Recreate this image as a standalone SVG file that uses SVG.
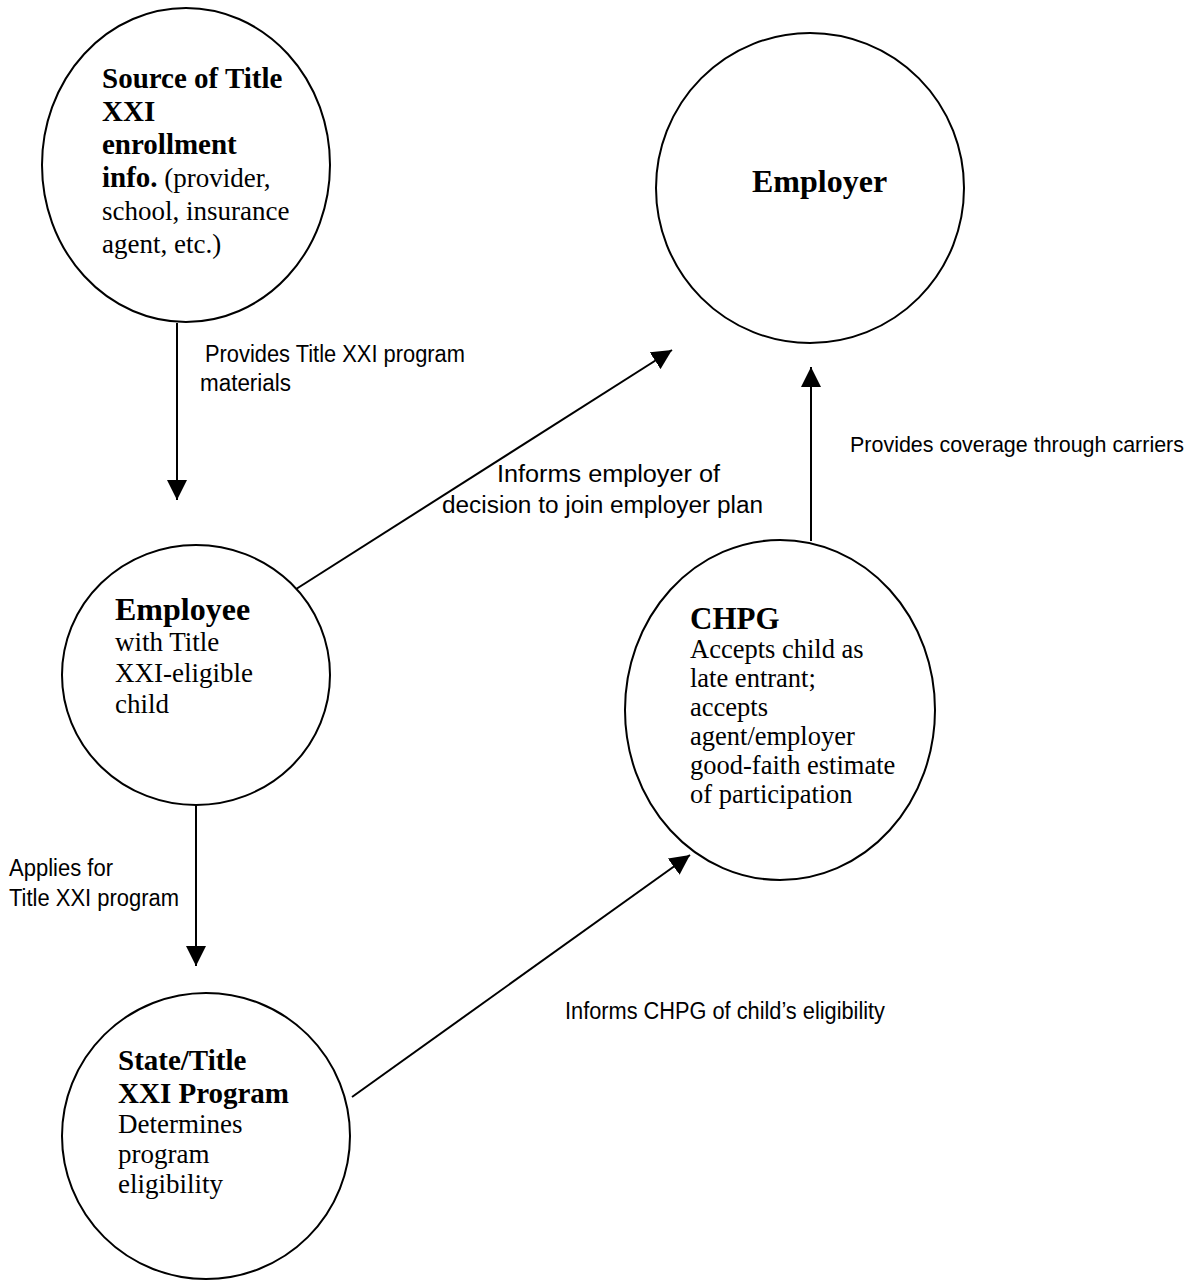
<svg xmlns="http://www.w3.org/2000/svg" width="1198" height="1281" viewBox="0 0 1198 1281">
<defs>
<style>
.node{fill:#fff;stroke:#000;stroke-width:2}
.b{font-family:"Liberation Serif","Times New Roman",serif;font-weight:bold;fill:#000}
.r{font-family:"Liberation Serif","Times New Roman",serif;fill:#000}
.lbl{font-family:"Liberation Sans Narrow","Liberation Sans",Arial,sans-serif;font-size:23px;fill:#000}
.edge{stroke:#000;stroke-width:2;fill:none;marker-end:url(#arr)}
</style>
<marker id="arr" markerUnits="userSpaceOnUse" markerWidth="20" markerHeight="20" refX="20" refY="10" orient="auto">
<path d="M0,0 L20,10 L0,20 z" fill="#000"/>
</marker>
</defs>
<rect width="1198" height="1281" fill="#fff"/>
<g id="connectors">
<line class="edge" x1="177" y1="323" x2="177" y2="500"/>
<line class="edge" x1="293" y1="591" x2="672" y2="350"/>
<line class="edge" x1="196" y1="806" x2="196" y2="966"/>
<line class="edge" x1="352" y1="1097" x2="690" y2="855"/>
<line class="edge" x1="811" y1="541" x2="811" y2="367"/>
<text class="lbl" x="205" y="362" textLength="260" lengthAdjust="spacingAndGlyphs">Provides Title XXI program</text>
<text class="lbl" x="200" y="391" textLength="91" lengthAdjust="spacingAndGlyphs">materials</text>
<text class="lbl" x="497" y="482" textLength="223" lengthAdjust="spacingAndGlyphs">Informs employer of</text>
<text class="lbl" x="442" y="513" textLength="321" lengthAdjust="spacingAndGlyphs">decision  to join employer plan</text>
<text class="lbl" x="850" y="452" font-size="21.5" style="font-size:21.5px" textLength="334" lengthAdjust="spacingAndGlyphs">Provides coverage through carriers</text>
<text class="lbl" x="9" y="876" textLength="104" lengthAdjust="spacingAndGlyphs">Applies for</text>
<text class="lbl" x="9" y="906" textLength="170" lengthAdjust="spacingAndGlyphs">Title XXI program</text>
<text class="lbl" x="565" y="1019" textLength="320" lengthAdjust="spacingAndGlyphs">Informs CHPG of child’s eligibility</text>
</g>
<g id="source">
<ellipse class="node" cx="186" cy="165" rx="144" ry="157"/>
<text class="b" font-size="29" x="102" y="88">Source of Title</text>
<text class="b" font-size="29" x="102" y="121">XXI</text>
<text class="b" font-size="29" x="102" y="154">enrollment</text>
<text x="102" y="187"><tspan class="b" font-size="29">info.</tspan><tspan class="r" font-size="27"> (provider,</tspan></text>
<text class="r" font-size="27" x="102" y="220">school, insurance</text>
<text class="r" font-size="27" x="102" y="253">agent, etc.)</text>
</g>
<g id="employer">
<ellipse class="node" cx="810" cy="188" rx="154" ry="155"/>
<text class="b" font-size="32" x="752" y="192">Employer</text>
</g>
<g id="employee">
<ellipse class="node" cx="196" cy="675" rx="134" ry="130"/>
<text class="b" font-size="32" x="115" y="620">Employee</text>
<text class="r" font-size="27" x="115" y="651">with Title</text>
<text class="r" font-size="27" x="115" y="682">XXI-eligible</text>
<text class="r" font-size="27" x="115" y="713">child</text>
</g>
<g id="chpg">
<ellipse class="node" cx="780" cy="710" rx="155" ry="170"/>
<text class="b" font-size="31" x="690" y="629">CHPG</text>
<text class="r" font-size="26.5" x="690" y="658">Accepts child as</text>
<text class="r" font-size="26.5" x="690" y="687">late entrant;</text>
<text class="r" font-size="26.5" x="690" y="716">accepts</text>
<text class="r" font-size="26.5" x="690" y="745">agent/employer</text>
<text class="r" font-size="26.5" x="690" y="774">good-faith estimate</text>
<text class="r" font-size="26.5" x="690" y="803">of participation</text>
</g>
<g id="state">
<ellipse class="node" cx="206" cy="1136" rx="144" ry="143"/>
<text class="b" font-size="29" x="118" y="1070">State/Title</text>
<text class="b" font-size="29" x="118" y="1103">XXI Program</text>
<text class="r" font-size="27" x="118" y="1133">Determines</text>
<text class="r" font-size="27" x="118" y="1163">program</text>
<text class="r" font-size="27" x="118" y="1193">eligibility</text>
</g>
</svg>
